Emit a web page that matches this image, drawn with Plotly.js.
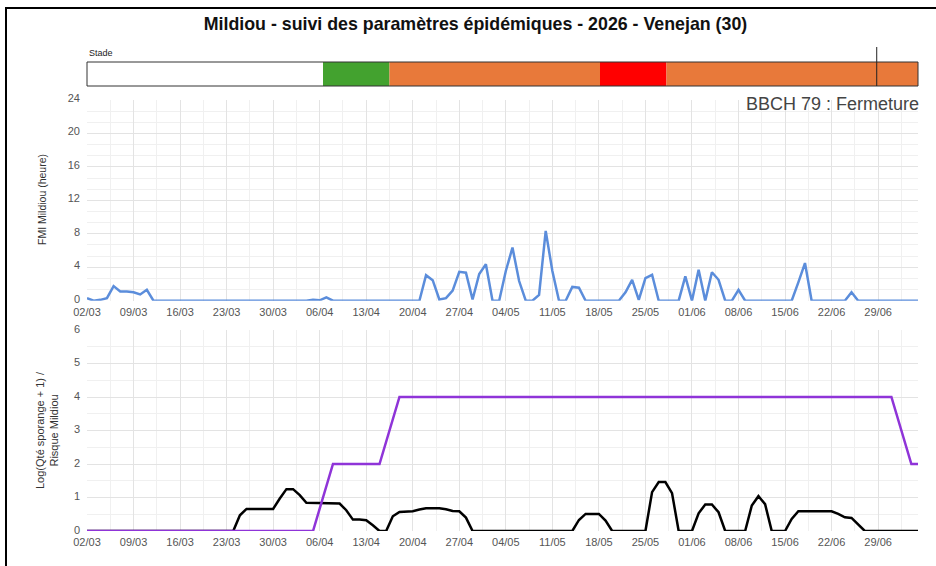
<!DOCTYPE html>
<html>
<head>
<meta charset="utf-8">
<script src="https://cdn.plot.ly/plotly-3.0.1.min.js"></script>
<style>
  html, body { margin: 0; padding: 0; background: #fff; }
  #chart { position: absolute; left: 0; top: 0; width: 936px; height: 566px; }
  #frame { position: absolute; left: 5px; top: 7px; width: 940px; height: 570px;
           border-left: 2px solid #000; border-top: 2px solid #000; pointer-events: none; z-index: 10; }
</style>
</head>
<body>
<div id="chart"></div>
<div id="frame"></div>
<script>
// ---------- DATA ----------
const startDate = '2026-03-02';
const endDate = '2026-07-05';

// FMI Mildiou (heure), one value per day from 02/03 to 05/07
const fmiValues = [
  0.3,0,0.1,0.3,1.75,1.1,1.1,1.0,0.75,1.3,
  0,0,0,0,0,0,0,0,0,0,
  0,0,0,0,0,0,0,0,0,0,
  0,0,0,0,0.1,0.05,0.4,0,0,0,
  0,0,0,0,0,0,0,0,0,0,
  0,3.05,2.45,0.15,0.3,1.2,3.45,3.35,0.15,3.2,
  4.35,0,0,3.55,6.35,2.35,0,0,0.7,8.35,
  3.55,0,0,1.65,1.55,0,0,0,0,0,
  0,1.0,2.5,0.1,2.7,3.1,0,0,0,0,
  2.9,0,3.7,0,3.4,2.5,0,0,1.3,0,
  0,0,0,0,0,0,0,2.2,4.5,0,
  0,0,0,0,0,1.0,0,0,0,0,
  0,0,0,0,0,0
];

// Log(Qté sporange + 1), one value per day
const sporangeValues = [
  0,0,0,0,0,0,0,0,0,0,
  0,0,0,0,0,0,0,0,0,0,
  0,0,0,0.47,0.66,0.66,0.66,0.66,0.66,0.97,
  1.25,1.25,1.07,0.84,0.84,0.84,0.82,0.82,0.82,0.62,
  0.34,0.34,0.32,0.17,0,0,0.44,0.57,0.57,0.59,
  0.64,0.68,0.68,0.68,0.65,0.6,0.59,0.4,0,0,
  0,0,0,0,0,0,0,0,0,0,
  0,0,0,0,0.33,0.51,0.51,0.51,0.31,0,
  0,0,0,0,0,1.16,1.46,1.46,1.13,0,
  0,0,0.53,0.79,0.79,0.56,0,0,0,0,
  0.76,1.04,0.8,0,0,0,0.36,0.59,0.59,0.59,
  0.59,0.59,0.59,0.51,0.41,0.39,0.21,0,0,0,
  0,0,0,0,0,0
];

// Risque Mildiou (vertices of the step line)
const risqueDates = ['2026-03-02','2026-04-05','2026-04-08','2026-04-15','2026-04-18','2026-07-01','2026-07-04','2026-07-05'];
const risqueValues = [0,0,2,2,4,4,2,2];

// Stade timeline
const stadeStarts = ['2026-03-02','2026-04-06 12:00','2026-04-16 12:00','2026-05-18 04:00','2026-05-28 04:00'];
const stadeEnds   = ['2026-04-06 12:00','2026-04-16 12:00','2026-05-18 04:00','2026-05-28 04:00','2026-07-05'];
const stadeColors = ['#ffffff','#43a22f','#e8793a','#ff0000','#e8793a'];
const stadeMarker = '2026-06-28 19:00';
const stadeLabel = 'BBCH 79 : Fermeture';

const titleText = 'Mildiou - suivi des paramètres épidémiques - 2026 - Venejan (30)';
const yTitleTop = 'FMI Mildiou (heure)';
const yTitleBottom = 'Log(Qté sporange + 1) /<br>Risque Mildiou';

// daily dates (categories)
const days = [];
{
  const d0 = new Date(startDate + 'T00:00:00Z');
  for (let i = 0; i < fmiValues.length; i++) {
    const d = new Date(d0.getTime() + i * 86400000);
    days.push(d.toISOString().slice(0, 10));
  }
}

// ---------- CHART ----------
const FONT = 'Liberation Sans, Arial, sans-serif';
const W = 936, H = 566;
const ML = 87, MR = 18, MT = 100, MB = 35;
const plotH = H - MT - MB;
const py = (px) => (H - MB - px) / plotH;       // pixel y -> paper y
const px2 = (x) => (x - ML) / (W - ML - MR);     // pixel x -> paper x

const traces = [
  { x: days, y: fmiValues, type: 'scatter', mode: 'lines', xaxis: 'x', yaxis: 'y',
    line: { color: '#5b8ddb', width: 2.5 } },
  { x: days, y: sporangeValues, type: 'scatter', mode: 'lines', xaxis: 'x2', yaxis: 'y2',
    line: { color: '#000000', width: 2.5 } },
  { x: risqueDates, y: risqueValues, type: 'scatter', mode: 'lines', xaxis: 'x2', yaxis: 'y2',
    line: { color: '#8f34d8', width: 2.5 } }
];

const xCommon = {
  type: 'date', range: [startDate, endDate], tickformat: '%d/%m',
  dtick: 7 * 86400000, tick0: startDate, showgrid: true, gridcolor: '#e3e3e3', gridwidth: 1,
  zeroline: false, showline: false, ticks: '', ticklabelstandoff: 3,
  tickfont: { family: FONT, size: 11, color: '#555' },
  minor: { dtick: 3.5 * 86400000, tick0: startDate, showgrid: true, gridcolor: '#f0f0f0', gridwidth: 1 }
};

const shapes = [];
for (let i = 0; i < stadeStarts.length; i++) {
  shapes.push({ type: 'rect', xref: 'x', yref: 'paper', x0: stadeStarts[i], x1: stadeEnds[i],
    y0: py(86), y1: py(62), fillcolor: stadeColors[i], line: { width: 0 }, layer: 'above' });
}
shapes.push({ type: 'rect', xref: 'paper', yref: 'paper', x0: 0, x1: 1, y0: py(86), y1: py(62),
  fillcolor: 'rgba(0,0,0,0)', line: { color: '#333', width: 1 } });
shapes.push({ type: 'line', xref: 'x', yref: 'paper', x0: stadeMarker, x1: stadeMarker,
  y0: py(86), y1: py(47), line: { color: '#222', width: 1 } });

const layout = {
  width: W, height: H,
  margin: { l: ML, r: MR, t: MT, b: MB },
  paper_bgcolor: '#fff', plot_bgcolor: '#fff',
  showlegend: false,
  font: { family: FONT, color: '#444' },
  title: { text: '<b>' + titleText + '</b>', x: 0.508, xanchor: 'center', y: 1 - 24 / H, yanchor: 'middle',
    yref: 'container', font: { family: FONT, size: 17.8, color: '#111' } },
  xaxis: Object.assign({}, xCommon, { anchor: 'y' }),
  xaxis2: Object.assign({}, xCommon, { anchor: 'y2' }),
  yaxis: { domain: [py(300.7), 1], range: [0, 24], dtick: 4, showgrid: true, gridcolor: '#e3e3e3',
    zeroline: false, ticks: '', ticklabelstandoff: 6, ticklabelshift: -2,
    tickfont: { family: FONT, size: 11, color: '#555' },
    minor: { dtick: 4 / 3, showgrid: true, gridcolor: '#f0f0f0' } },
  yaxis2: { domain: [0, py(330)], range: [0, 6], dtick: 1, showgrid: true, gridcolor: '#e3e3e3',
    zeroline: false, ticks: '', ticklabelstandoff: 6, ticklabelshift: -1,
    tickfont: { family: FONT, size: 11, color: '#555' },
    minor: { dtick: 0.5, showgrid: true, gridcolor: '#f0f0f0' } },
  shapes: shapes,
  annotations: [
    { text: 'Stade', xref: 'paper', yref: 'paper', x: 0, y: py(53), xanchor: 'left', yanchor: 'middle',
      showarrow: false, font: { family: FONT, size: 9, color: '#222' } },
    { text: stadeLabel, xref: 'paper', yref: 'paper', x: px2(921), y: py(104), xanchor: 'right', yanchor: 'middle',
      showarrow: false, font: { family: FONT, size: 18, color: '#444' } },
    { text: yTitleTop, xref: 'paper', yref: 'paper', x: px2(42), y: py(200), xanchor: 'center', yanchor: 'middle',
      textangle: -90, showarrow: false, font: { family: FONT, size: 10.5, color: '#333' } },
    { text: yTitleBottom, xref: 'paper', yref: 'paper', x: px2(47), y: py(430), xanchor: 'center', yanchor: 'middle',
      textangle: -90, showarrow: false, font: { family: FONT, size: 11, color: '#333' } }
  ]
};

Plotly.newPlot('chart', traces, layout, { displayModeBar: false, staticPlot: true });
</script>
</body>
</html>
